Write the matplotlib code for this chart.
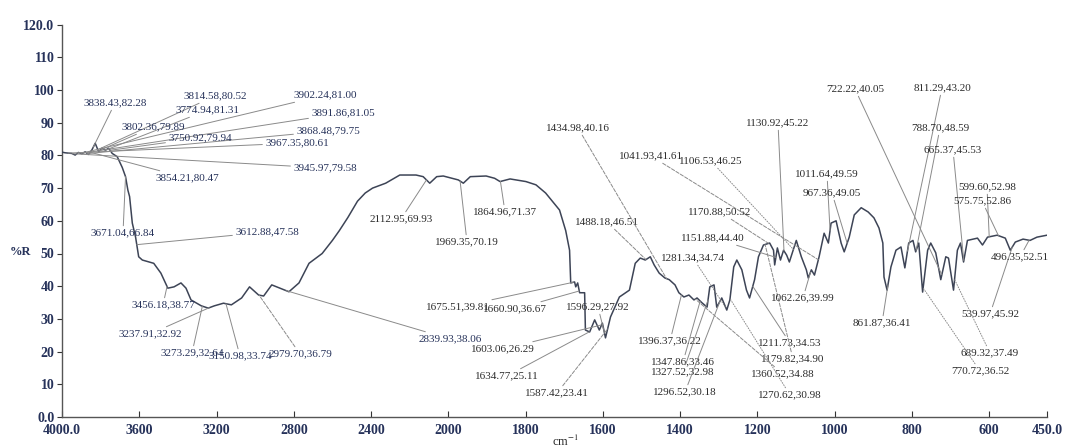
import numpy as np
import matplotlib
matplotlib.use("Agg")
import matplotlib.pyplot as plt

# spectrum (cm-1, %R)
wavenumber = [
    4000, 3984, 3949, 3932, 3915, 3897, 3880, 3863, 3845, 3828, 3810, 3793,
    3775, 3758, 3740, 3714, 3688, 3671, 3659, 3650, 3636, 3619, 3603, 3584,
    3525, 3488, 3452, 3420, 3384, 3358, 3332, 3279, 3243, 3211, 3164, 3123,
    3070, 3029, 2982, 2956, 2914, 2872, 2825, 2773, 2721, 2653, 2600, 2564,
    2520, 2470, 2430, 2392, 2324, 2251, 2235, 2167, 2130, 2096, 2060, 2026,
    1974, 1961, 1943, 1902, 1880, 1866, 1840, 1799, 1773, 1748, 1712, 1696,
    1686, 1683, 1673, 1670, 1665, 1660, 1647, 1645, 1634, 1621, 1609, 1601,
    1593, 1580, 1557, 1531, 1516, 1503, 1490, 1477, 1467, 1454, 1439, 1428,
    1413, 1403, 1390, 1377, 1364, 1356, 1343, 1330, 1323, 1312, 1305, 1292,
    1279, 1271, 1261, 1253, 1240, 1228, 1220, 1207, 1197, 1184, 1168, 1158,
    1155, 1148, 1140, 1132, 1124, 1117, 1099, 1086, 1073, 1068, 1060, 1052,
    1040, 1027, 1016, 1009, 996, 983, 975, 962, 949, 931, 913, 898,
    885, 875, 872, 864, 854, 841, 828, 818, 808, 797, 790, 782,
    772, 759, 751, 738, 725, 712, 705, 692, 682, 674, 666, 656,
    630, 617, 604, 579, 558, 545, 532, 512, 494, 476, 450,
]
reflectance = [
    81.0, 80.8, 80.6, 80.1, 80.9, 80.5, 81.1, 80.3, 81.7, 83.7, 81.1, 82.2,
    81.6, 82.2, 80.6, 79.6, 76.3, 73.5, 69.4, 67.4, 59.3, 55.0, 49.0, 48.0,
    47.0, 44.0, 39.4, 39.8, 41.0, 39.4, 35.8, 34.0, 33.3, 34.0, 34.8, 34.3,
    36.4, 39.8, 37.3, 37.0, 40.4, 39.4, 38.3, 41.0, 47.0, 50.0, 54.0, 57.0,
    61.0, 66.0, 68.5, 70.0, 71.5, 74.0, 74.0, 74.0, 73.5, 71.5, 73.5, 73.7,
    72.5, 71.5, 73.5, 73.7, 73.0, 72.0, 72.8, 72.0, 71.0, 68.5, 63.3, 57.0,
    51.0, 41.0, 41.3, 39.8, 41.0, 38.0, 38.0, 26.6, 26.0, 29.7, 26.6, 28.7,
    24.2, 30.6, 36.7, 38.8, 47.0, 48.6, 48.0, 49.0, 46.5, 44.0, 42.5, 42.0,
    40.4, 38.0, 36.7, 37.3, 35.8, 36.4, 34.9, 33.6, 39.8, 40.4, 33.6, 36.4,
    32.7, 35.8, 45.9, 48.0, 45.0, 38.8, 36.4, 42.0, 49.0, 52.6, 53.2, 51.0,
    46.5, 51.7, 48.0, 51.0, 49.5, 47.4, 54.0, 49.0, 45.0, 42.5, 45.0, 43.4,
    49.0, 56.2, 53.2, 59.3, 60.0, 53.2, 50.5, 55.0, 61.8, 64.0, 62.7, 60.9,
    57.8, 53.2, 42.8, 38.8, 45.9, 51.0, 52.0, 45.6, 53.2, 54.0, 50.5, 53.2,
    38.2, 51.0, 53.2, 50.2, 42.0, 49.0, 48.6, 38.8, 51.0, 53.2, 47.4, 54.0,
    54.7, 52.6, 55.0, 55.6, 54.7, 51.0, 53.5, 54.4, 54.0, 55.0, 55.6,
]

# peak labels printed on the chart
peak_wn = [
    3838.43, 3814.58, 3902.24, 3774.94, 3891.86, 3802.36, 3868.48, 3750.92,
    3967.35, 3854.21, 3945.97, 3671.04, 3612.88, 3456.18, 3237.91, 3273.29,
    3150.98, 2979.70, 2839.93, 2112.95, 1969.35, 1864.96, 1675.51, 1660.90,
    1596.29, 1603.06, 1634.77, 1587.42, 1488.18, 1434.98, 1396.37, 1347.86,
    1327.52, 1296.52, 1281.34, 1211.73, 1179.82, 1360.52, 1270.62, 1041.93,
    1106.53, 1130.92, 1170.88, 1151.88, 1062.26, 1011.64, 967.36, 722.22,
    811.29, 788.70, 665.37, 599.60, 575.75, 861.87, 539.97, 689.32,
    770.72, 496.35,
]
peak_r = [
    82.28, 80.52, 81.00, 81.31, 81.05, 79.89, 79.75, 79.94,
    80.61, 80.47, 79.58, 66.84, 47.58, 38.77, 32.92, 32.64,
    33.74, 36.79, 38.06, 69.93, 70.19, 71.37, 39.81, 36.67,
    27.92, 26.29, 25.11, 23.41, 46.51, 40.16, 36.22, 33.46,
    32.98, 30.18, 34.74, 34.53, 34.90, 34.88, 30.98, 41.61,
    46.25, 45.22, 50.52, 44.40, 39.99, 49.59, 49.05, 40.05,
    43.20, 48.59, 45.53, 52.98, 52.86, 36.41, 45.92, 37.49,
    36.52, 52.51,
]

# label centres in image pixels (x from left, y from top) and leader style
label_xy = [
    (115, 103), (215, 96), (325, 95), (208, 110), (343, 113), (153, 127),
    (328, 131), (200, 138), (297, 143), (187, 178), (325, 168), (123, 233),
    (267, 232), (163, 305), (150, 334), (192, 353), (240, 356), (300, 354),
    (450, 339), (401, 219), (467, 242), (505, 212), (458, 307), (515, 309),
    (598, 307), (503, 349), (507, 376), (557, 393), (607, 222), (578, 128),
    (670, 341), (683, 362), (683, 372), (685, 392), (693, 258), (790, 343),
    (793, 359), (783, 374), (790, 395), (651, 156), (711, 161), (778, 123),
    (720, 212), (713, 238), (803, 298), (827, 174), (832, 193), (855, 89),
    (942, 88), (940, 128), (953, 150), (987, 187), (982, 201), (882, 323),
    (990, 314), (990, 353), (980, 371), (1020, 257),
]
label_ls = [
    "-", "-", "-", "-", "-", "-", "-", "-", "-", "-", "-", "-",
    "-", "-", "-", "-", "-", "--", "-", "-", "-", "-", "-", "-",
    "-", "-", "-", "--", "--", "--", "-", "-", "-", "-", ":", "-",
    "--", "--", ":", "--", ":", "-", "--", "-", "-", "-", "-", "-",
    "-", "-", "-", "-", "-", "-", "-", ":", ":", "-",
]

x_ticks = [4000, 3600, 3200, 2800, 2400, 2000, 1800, 1600, 1400, 1200, 1000, 800, 600, 450]
x_ticklabels = ["4000.0", "3600", "3200", "2800", "2400", "2000", "1800", "1600",
                "1400", "1200", "1000", "800", "600", "450.0"]
y_ticks = [0, 10, 20, 30, 40, 50, 60, 70, 80, 90, 100, 110, 120]
y_ticklabels = ["0.0", "10", "20", "30", "40", "50", "60", "70", "80", "90", "100", "110", "120.0"]


def _fwd(x):
    x = np.asarray(x, dtype=float)
    return np.where(x > 2000, 2000 + (x - 2000) / 2.0, x)


def _inv(t):
    t = np.asarray(t, dtype=float)
    return np.where(t > 2000, 2000 + (t - 2000) * 2.0, t)


W, H = 1066, 446
plt.rcParams["font.family"] = ["Liberation Serif", "DejaVu Serif"]
plt.rcParams["mathtext.fontset"] = "stix"

fig = plt.figure(figsize=(W / 100, H / 100), dpi=100)
ax = fig.add_axes([62 / W, 29 / H, 985 / W, (417 - 24.6) / H])

ax.set_xscale("function", functions=(_fwd, _inv))
ax.set_xlim(4000, 450)
ax.set_ylim(0, 120)

ax.plot(wavenumber, reflectance, color="#3d4456", lw=1.1, zorder=3)

navy = "#26325a"
ink = "#2b2b2b"
for wn, r, (px, py), ls in zip(peak_wn, peak_r, label_xy, label_ls):
    y_on_curve = np.interp(wn, wavenumber[::-1], reflectance[::-1])
    ax.annotate(
        f"{wn:.2f},{r:.2f}",
        xy=(wn, y_on_curve), xycoords="data",
        xytext=(px, H - py), textcoords="figure pixels",
        ha="center", va="center", fontsize=8,
        color=navy if wn > 2800 else ink,
        annotation_clip=False,
        arrowprops=dict(arrowstyle="-", color="#8a8a8a", lw=0.7,
                        linestyle=ls, shrinkA=0, shrinkB=0),
    )

ax.set_xticks(x_ticks)
ax.set_xticklabels(x_ticklabels)
ax.set_yticks(y_ticks)
ax.set_yticklabels(y_ticklabels)
ax.minorticks_off()
ax.tick_params(axis="x", direction="in", length=4, pad=5, labelsize=10,
               colors="#333333", labelcolor=navy)
ax.tick_params(axis="y", direction="out", length=3.5, pad=2, labelsize=10,
               colors="#333333", labelcolor=navy)
for lab in ax.get_xticklabels() + ax.get_yticklabels():
    lab.set_fontweight("bold")

for side in ("top", "right"):
    ax.spines[side].set_visible(False)
for side in ("left", "bottom"):
    ax.spines[side].set_color("#555555")
    ax.spines[side].set_linewidth(1.0)

fig.text(20 / W, 1 - 252 / H, "%R", ha="center", va="center",
         fontsize=9, fontweight="bold", color=navy)
fig.text(565 / W, 1 - 441 / H, r"cm$^{-1}$", ha="center", va="center",
         fontsize=9, color=ink)

fig.savefig("out.png", dpi=100)
